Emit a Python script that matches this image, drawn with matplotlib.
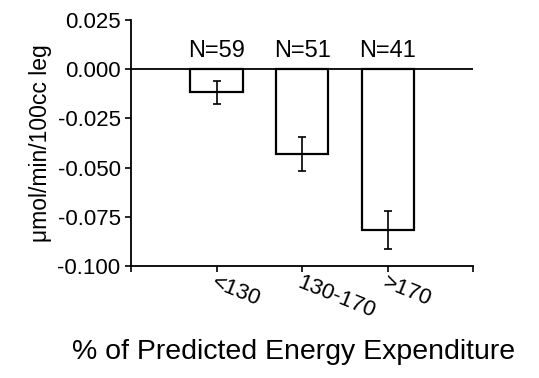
import matplotlib
matplotlib.use("Agg")
import matplotlib.pyplot as plt

categories = ["<130", "130-170", ">170"]
means = [-0.0118, -0.0430, -0.0818]
errors = [0.0060, 0.0087, 0.0097]
counts = ["N=59", "N=51", "N=41"]

plt.rcParams["font.family"] = ["Liberation Sans", "DejaVu Sans"]

fig = plt.figure(figsize=(5.39, 3.78), dpi=100)
ax = fig.add_axes([0.243, 0.296, 0.635, 0.651])

x = [1, 2, 3]
ax.bar(x, means, width=0.61, color="white", edgecolor="black", linewidth=1.6)
ax.errorbar(x, means, yerr=errors, fmt="none", ecolor="black", elinewidth=1.2,
            capsize=3, capthick=1.2)
ax.axhline(0, color="black", linewidth=1.3)
for xi, lab in zip(x, counts):
    ax.text(xi, 0.0035, lab, ha="center", va="bottom", fontsize=17)

ax.set_xlim(0, 4)
ax.set_ylim(-0.100, 0.025)
ax.set_yticks([0.025, 0.0, -0.025, -0.050, -0.075, -0.100])
ax.set_yticklabels(["0.025", "0.000", "-0.025", "-0.050", "-0.075", "-0.100"], fontsize=16)
ax.set_xticks([0, 1, 2, 3, 4])
ax.set_xticklabels([""] + categories + [""], fontsize=16, rotation=-22,
                   ha="left", va="top", rotation_mode="anchor")
ax.tick_params(axis="both", direction="out", length=4, width=1.2)
ax.tick_params(axis="x", pad=0)
for side in ["top", "right"]:
    ax.spines[side].set_visible(False)
for side in ["left", "bottom"]:
    ax.spines[side].set_linewidth(1.3)

ax.set_ylabel("\u03bcmol/min/100cc leg", fontsize=16.5, labelpad=4)
fig.text(0.545, 0.068, "% of Predicted Energy Expenditure", ha="center", va="center",
         fontsize=20.5)

fig.savefig("out.png", dpi=100)
